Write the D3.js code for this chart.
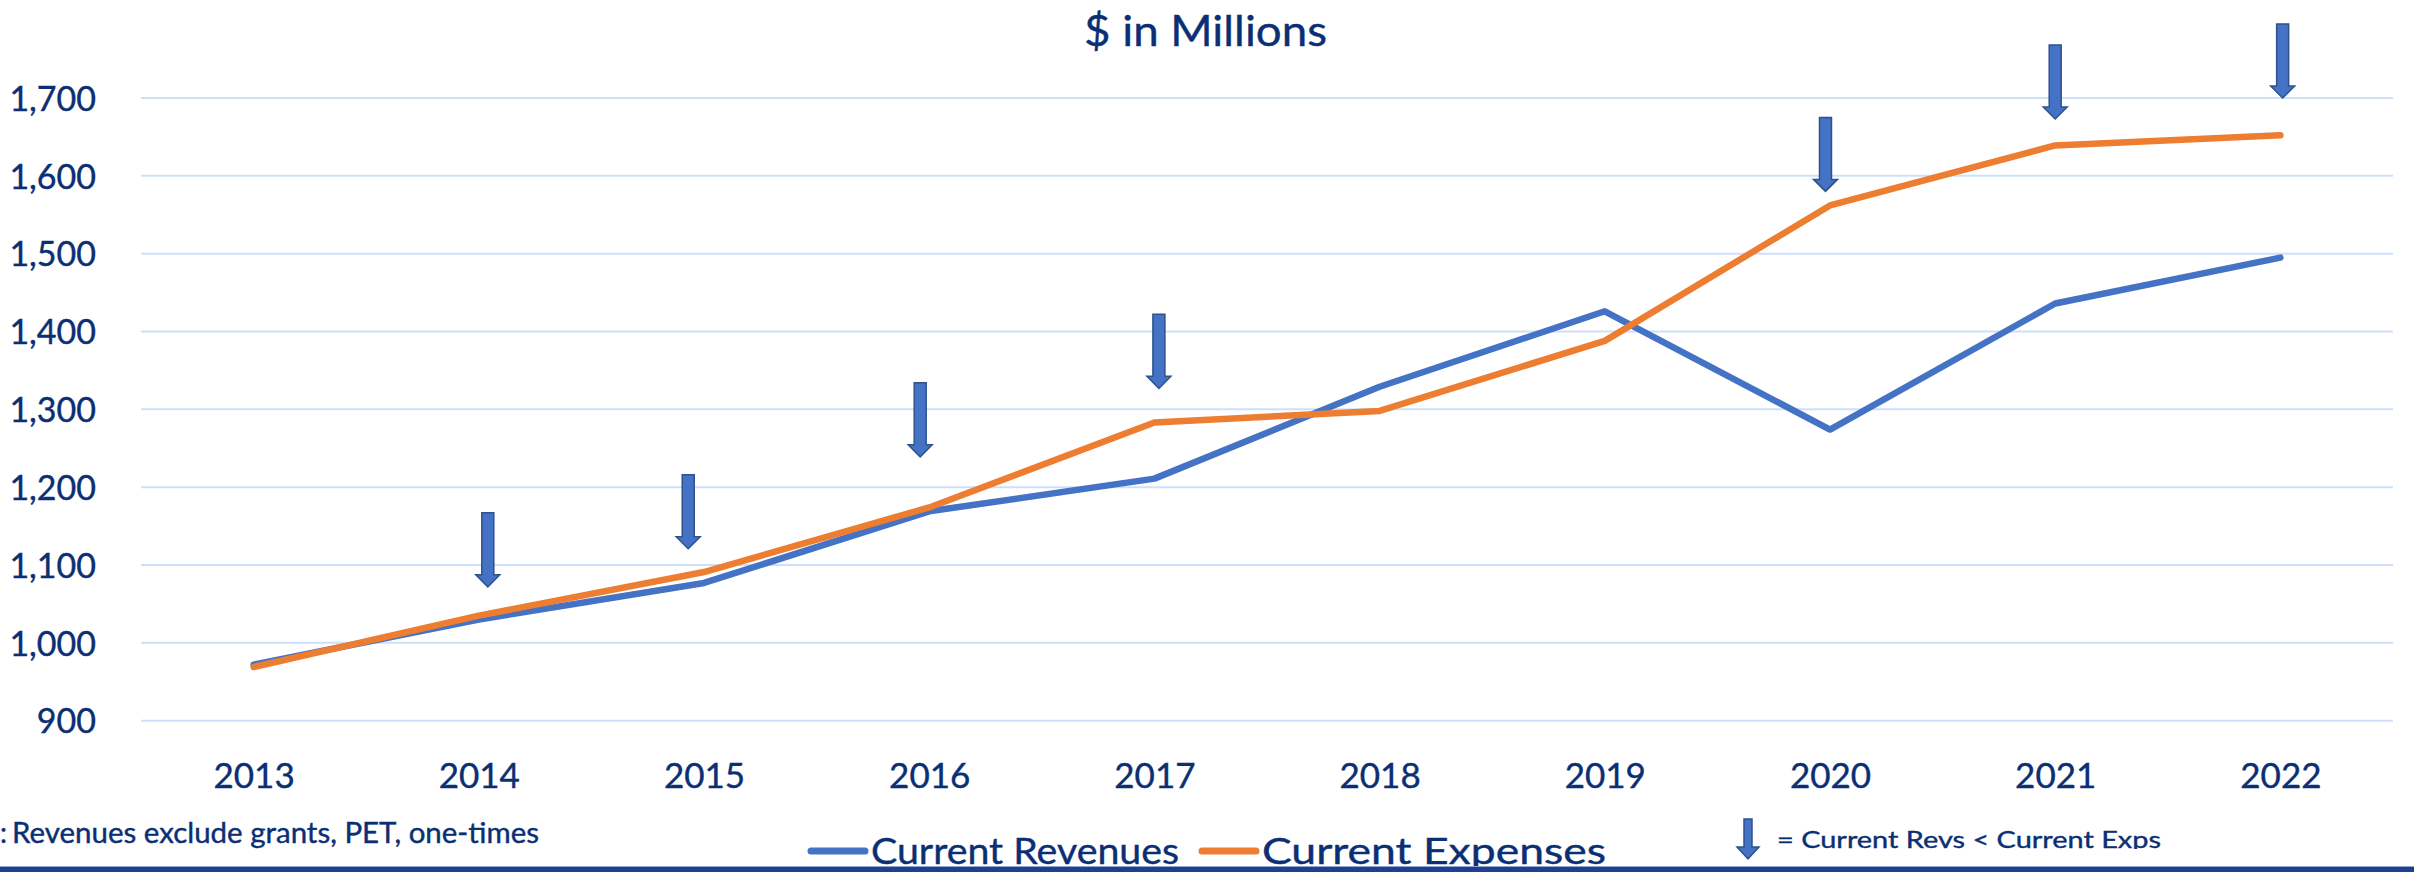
<!DOCTYPE html>
<html>
<head>
<meta charset="utf-8">
<script src="https://cdn.jsdelivr.net/npm/d3@7"></script>
<style>
  html, body { margin: 0; padding: 0; background: #fff; }
  svg { display: block; }
  text { font-family: Lato, "Open Sans", sans-serif; fill: #0b2f74; stroke: #0b2f74; stroke-width: 0.4px; }
</style>
</head>
<body>
<div id="chart"></div>
<script>
  // data ($ in millions)
  var years = ['2013', '2014', '2015', '2016', '2017', '2018', '2019', '2020', '2021', '2022'];
  var revenues = [972, 1030, 1077, 1169, 1211, 1329, 1426, 1274, 1436, 1495];
  var expenses = [969, 1035, 1091, 1174, 1283, 1298, 1388, 1562, 1639, 1652];
  var yTicks = [900, 1000, 1100, 1200, 1300, 1400, 1500, 1600, 1700];

  // down arrows: years where revs < exps, the value the tip points at, and a small nudge (in steps)
  var arrowYears = ['2014', '2015', '2016', '2017', '2020', '2021', '2022'];
  var arrowTips = [1072, 1121, 1239, 1327, 1580, 1673, 1700];
  var arrowNudge = [0.04, -0.07, -0.04, 0.02, -0.02, 0, 0.01];

  var W = 2414, H = 872;
  var blue = '#4472C4', orange = '#ED7D31';

  var svg = d3.select('#chart').append('svg')
    .attr('width', W)
    .attr('height', H);

  var x = d3.scalePoint()
    .domain(years)
    .range([141, 2393])
    .padding(0.5);

  var y = d3.scaleLinear()
    .domain([900, 1700])
    .range([720.7, 98]);

  // gridlines
  svg.append('g')
    .selectAll('line')
    .data(yTicks)
    .enter().append('line')
    .attr('x1', 141)
    .attr('x2', 2393)
    .attr('y1', function (d) { return y(d); })
    .attr('y2', function (d) { return y(d); })
    .attr('stroke', '#cfdffa')
    .attr('stroke-width', 2);

  // y axis labels
  var yAxis = svg.append('g')
    .attr('transform', 'translate(96,0)')
    .call(d3.axisLeft(y).tickValues(yTicks).tickFormat(d3.format(',')).tickSize(0).tickPadding(0));
  yAxis.select('.domain').remove();
  yAxis.selectAll('text')
    .attr('font-size', 34)
    .attr('font-family', 'Lato, sans-serif')
    .attr('fill', '#0b2f74')
    .attr('dy', '0.36em');

  // x axis labels
  var xAxis = svg.append('g')
    .attr('transform', 'translate(0,788)')
    .call(d3.axisBottom(x).tickSize(0).tickPadding(0));
  xAxis.select('.domain').remove();
  xAxis.selectAll('text')
    .attr('font-size', 35)
    .attr('font-family', 'Lato, sans-serif')
    .attr('fill', '#0b2f74')
    .attr('dy', 0);

  // lines
  var line = d3.line()
    .x(function (d, i) { return x(years[i]); })
    .y(function (d) { return y(d); });

  svg.append('path')
    .datum(revenues)
    .attr('d', line)
    .attr('fill', 'none')
    .attr('stroke', blue)
    .attr('stroke-width', 6.5)
    .attr('stroke-linejoin', 'round')
    .attr('stroke-linecap', 'round');

  svg.append('path')
    .datum(expenses)
    .attr('d', line)
    .attr('fill', 'none')
    .attr('stroke', orange)
    .attr('stroke-width', 6.5)
    .attr('stroke-linejoin', 'round')
    .attr('stroke-linecap', 'round');

  // arrow shape, tip at (0,0)
  function arrowPath(len, shaft, head, headLen) {
    var s = shaft / 2, h = head / 2;
    return 'M' + (-s) + ',' + (-len) + 'H' + s + 'V' + (-headLen) + 'H' + h +
      'L0,0L' + (-h) + ',' + (-headLen) + 'H' + (-s) + 'Z';
  }

  var step = x.step();
  svg.append('g')
    .selectAll('path')
    .data(arrowYears)
    .enter().append('path')
    .attr('d', arrowPath(74, 12, 24, 12))
    .attr('transform', function (d, i) {
      return 'translate(' + (x(d) + arrowNudge[i] * step) + ',' + y(arrowTips[i]) + ')';
    })
    .attr('fill', '#4472C4')
    .attr('stroke', '#2F528F')
    .attr('stroke-width', 1.5);

  // title
  svg.append('text')
    .attr('x', 1084)
    .attr('y', 46)
    .attr('font-size', 43)
    .attr('textLength', 243)
    .attr('lengthAdjust', 'spacingAndGlyphs')
    .text('$ in Millions');

  // footnote (left part is cropped in the source)
  svg.append('text')
    .attr('x', 0)
    .attr('y', 843)
    .attr('font-size', 28)
    .text(':');
  svg.append('text')
    .attr('x', 12)
    .attr('y', 843)
    .attr('font-size', 28)
    .attr('textLength', 527)
    .attr('lengthAdjust', 'spacingAndGlyphs')
    .text('Revenues exclude grants, PET, one-times');

  // legend
  var legend = [
    { name: 'Current Revenues', color: blue, x0: 811, tx: 871, tw: 308 },
    { name: 'Current Expenses', color: orange, x0: 1202, tx: 1262, tw: 344 }
  ];
  var lg = svg.append('g');
  lg.selectAll('line')
    .data(legend)
    .enter().append('line')
    .attr('x1', function (d) { return d.x0; })
    .attr('x2', function (d) { return d.x0 + 54; })
    .attr('y1', 851)
    .attr('y2', 851)
    .attr('stroke', function (d) { return d.color; })
    .attr('stroke-width', 7)
    .attr('stroke-linecap', 'round');
  lg.selectAll('text')
    .data(legend)
    .enter().append('text')
    .attr('x', function (d) { return d.tx; })
    .attr('y', 864)
    .attr('font-size', 37)
    .attr('textLength', function (d) { return d.tw; })
    .attr('lengthAdjust', 'spacingAndGlyphs')
    .text(function (d) { return d.name; });

  // arrow key, clipped at the bottom like the source text box
  svg.append('clipPath')
    .attr('id', 'keyclip')
    .append('rect')
    .attr('x', 1700).attr('y', 800).attr('width', 600).attr('height', 49);

  svg.append('path')
    .attr('d', arrowPath(40, 8, 22, 12))
    .attr('transform', 'translate(1748,859)')
    .attr('fill', '#4472C4')
    .attr('stroke', '#2F528F')
    .attr('stroke-width', 1.5);

  svg.append('text')
    .attr('clip-path', 'url(#keyclip)')
    .attr('x', 1777)
    .attr('y', 848)
    .attr('font-size', 24)
    .attr('textLength', 384)
    .attr('lengthAdjust', 'spacingAndGlyphs')
    .text('= Current Revs < Current Exps');

  // slide border at the bottom
  svg.append('rect')
    .attr('x', 0).attr('y', 866).attr('width', W).attr('height', 1)
    .attr('fill', '#8fa6d2');
  svg.append('rect')
    .attr('x', 0).attr('y', 867).attr('width', W).attr('height', 5)
    .attr('fill', '#1f3f92');
</script>
</body>
</html>
